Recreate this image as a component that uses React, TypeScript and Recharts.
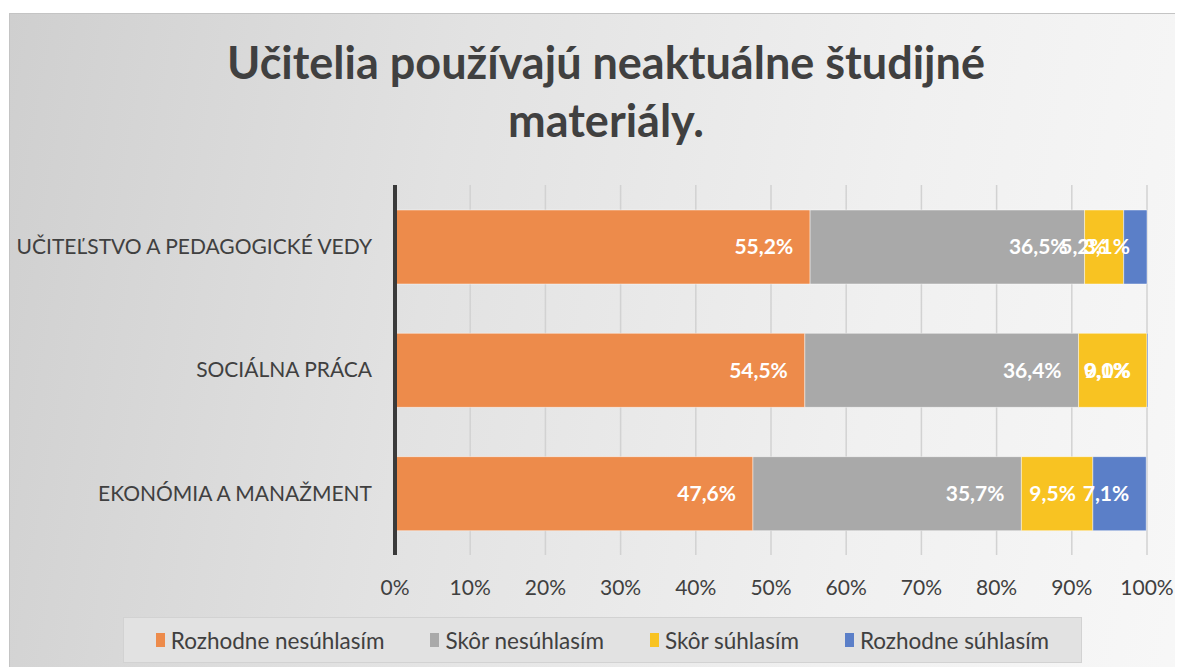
import * as React from "react"
import {
  BarChart,
  Bar,
  XAxis,
  YAxis,
  CartesianGrid,
  LabelList,
} from "recharts"

const categories = [
  "UČITEĽSTVO A PEDAGOGICKÉ VEDY",
  "SOCIÁLNA PRÁCA",
  "EKONÓMIA A MANAŽMENT",
]
const rozhodneNesuhlasim = [55.2, 54.5, 47.6]
const skorNesuhlasim = [36.5, 36.4, 35.7]
const skorSuhlasim = [5.2, 9.1, 9.5]
const rozhodneSuhlasim = [3.1, 0.0, 7.1]
const xTicks = [0, 10, 20, 30, 40, 50, 60, 70, 80, 90, 100]

const series = [
  { key: "rn", label: "Rozhodne nesúhlasím", color: "#ed8b4b" },
  { key: "sn", label: "Skôr nesúhlasím", color: "#a9a9a9" },
  { key: "ss", label: "Skôr súhlasím", color: "#f8c322" },
  { key: "rs", label: "Rozhodne súhlasím", color: "#5b7fc8" },
]

const data = categories.map((name, i) => ({
  name,
  rn: rozhodneNesuhlasim[i],
  sn: skorNesuhlasim[i],
  ss: skorSuhlasim[i],
  rs: rozhodneSuhlasim[i],
}))

const font = "Lato, 'Open Sans', sans-serif"
const pct = (v: any) => Number(v).toFixed(1).replace(".", ",") + "%"

export default function App() {
  return (
    <div style={{ position: "relative", width: 1175, height: 659, fontFamily: font }}>
      <div
        style={{
          position: "absolute",
          left: 1,
          top: 5,
          width: 1200,
          height: 680,
          border: "1px solid #c4c4c4",
          background: "linear-gradient(100deg, #cfcfcf 0%, #e2e2e2 35%, #f0f0f0 70%, #f8f8f8 100%)",
        }}
      />
      <div
        style={{
          position: "absolute",
          left: 0,
          top: 25,
          width: 1196,
          textAlign: "center",
          fontSize: 45,
          fontWeight: 700,
          lineHeight: "58px",
          color: "#404040",
        }}
      >
        Učitelia používajú neaktuálne študijné
        <br />
        materiály.
      </div>
      <div style={{ position: "absolute", left: 0, top: 0 }}>
        <BarChart
          width={1175}
          height={659}
          data={data}
          layout="vertical"
          barSize={74}
          margin={{ top: 177, right: 36, bottom: 82, left: 0 }}
        >
          <CartesianGrid horizontal={false} stroke="#d2d2d2" strokeWidth={1.5} />
          <XAxis
            type="number"
            domain={[0, 100]}
            ticks={xTicks}
            tickFormatter={(v) => v + "%"}
            axisLine={false}
            tickLine={false}
            tickSize={0}
            tickMargin={25}
            height={30}
            tick={{ fill: "#404040", fontSize: 21, fontFamily: font }}
          />
          <YAxis
            type="category"
            dataKey="name"
            width={387}
            axisLine={{ stroke: "#3a3a3a", strokeWidth: 4 }}
            tickLine={false}
            tickSize={0}
            tickMargin={23}
            tick={{ fill: "#404040", fontSize: 21, fontFamily: font }}
          />
          {series.map((s) => (
            <Bar
              key={s.key}
              dataKey={s.key}
              stackId="a"
              fill={s.color}
              stroke="#ffffff"
              strokeOpacity={0.45}
              strokeWidth={1}
              name={s.label}
              minPointSize={s.key === "rs" ? 1 : 0}
              isAnimationActive={false}
            >
              <LabelList
                dataKey={s.key}
                position="insideRight"
                offset={17}
                formatter={pct}
                fill="#ffffff"
                style={{ fontSize: 21, fontWeight: 700, fontFamily: font }}
              />
            </Bar>
          ))}
        </BarChart>
      </div>
      <div
        style={{
          position: "absolute",
          left: 115,
          top: 609,
          width: 957,
          height: 44,
          background: "#e2e2e2",
          border: "1px solid #d2d2d2",
          display: "flex",
          alignItems: "center",
          justifyContent: "center",
          gap: 46,
          fontSize: 22.5,
          color: "#404040",
        }}
      >
        {series.map((s) => (
          <div key={s.key} style={{ display: "flex", alignItems: "center" }}>
            <span
              style={{
                display: "inline-block",
                width: 9,
                height: 14,
                background: s.color,
                marginRight: 6,
              }}
            />
            {s.label}
          </div>
        ))}
      </div>
    </div>
  )
}
